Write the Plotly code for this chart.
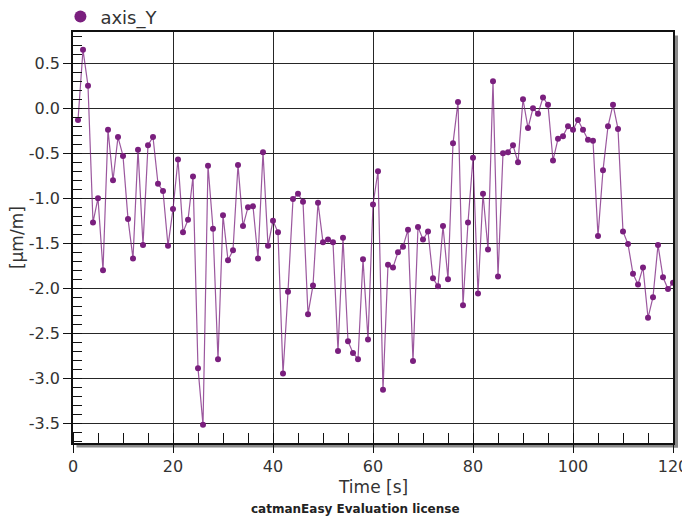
import plotly.graph_objects as go

time_s = list(range(1, 121))
axis_y = [
    -0.13, 0.65, 0.25, -1.27, -1.00, -1.80, -0.24, -0.80, -0.32, -0.53,
    -1.23, -1.67, -0.46, -1.52, -0.41, -0.32, -0.84, -0.92, -1.53, -1.12,
    -0.57, -1.38, -1.24, -0.76, -2.89, -3.52, -0.64, -1.34, -2.79, -1.19,
    -1.69, -1.58, -0.63, -1.31, -1.10, -1.09, -1.67, -0.49, -1.53, -1.25,
    -1.38, -2.95, -2.04, -1.01, -0.95, -1.04, -2.29, -1.97, -1.05, -1.49,
    -1.46, -1.49, -2.70, -1.44, -2.59, -2.72, -2.79, -1.68, -2.57, -1.07,
    -0.70, -3.13, -1.74, -1.77, -1.60, -1.54, -1.35, -2.81, -1.32, -1.46,
    -1.37, -1.89, -1.98, -1.31, -1.90, -0.39, 0.07, -2.19, -1.27, -0.55,
    -2.06, -0.95, -1.57, 0.30, -1.87, -0.50, -0.49, -0.41, -0.60, 0.10,
    -0.22, 0.00, -0.06, 0.12, 0.04, -0.58, -0.34, -0.31, -0.20, -0.24,
    -0.13, -0.24, -0.35, -0.36, -1.42, -0.69, -0.20, 0.04, -0.23, -1.37,
    -1.51, -1.84, -1.96, -1.77, -2.33, -2.10, -1.52, -1.88, -2.01, -1.94,
]
x_ticks = [0, 20, 40, 60, 80, 100, 120]
y_ticks = [0.5, 0.0, -0.5, -1.0, -1.5, -2.0, -2.5, -3.0, -3.5]
y_tick_text = ["0.5", "0.0", "-0.5", "-1.0", "-1.5", "-2.0", "-2.5", "-3.0", "-3.5"]

PURPLE = "#7a1f7e"
GRID = "#262626"
FONT = "DejaVu Sans"

fig = go.Figure()
fig.add_trace(go.Scatter(
    x=time_s, y=axis_y, mode="lines+markers", showlegend=False,
    line=dict(color="rgba(122,31,126,0.75)", width=1.2),
    marker=dict(color=PURPLE, size=6),
))
fig.add_trace(go.Scatter(
    x=[None], y=[None], mode="markers", name="axis_Y",
    marker=dict(color=PURPLE, size=12),
))

W, H = 600.0, 411.0
shapes = [
    dict(type="rect", xref="paper", yref="paper",
         x0=1 + 1 / W, x1=1 + 5 / W, y0=1 - 3.5 / H, y1=-4.5 / H,
         fillcolor="#8a8a8a", line=dict(width=0), layer="below"),
    dict(type="rect", xref="paper", yref="paper",
         x0=3.5 / W, x1=1 + 5 / W, y0=-1 / H, y1=-4.5 / H,
         fillcolor="#8a8a8a", line=dict(width=0), layer="below"),
]

# page body has an 8px margin, so the figure is sized/offset to compensate
fig.update_layout(
    width=682, height=508,
    margin=dict(l=65, r=17, t=24, b=73, autoexpand=False),
    paper_bgcolor="white", plot_bgcolor="white",
    font=dict(family=FONT, size=16, color="#333333"),
    showlegend=True,
    legend=dict(x=-0.021, y=1.082, xanchor="left", yanchor="top",
                font=dict(size=18, color="#333333"), bgcolor="rgba(0,0,0,0)"),
    shapes=shapes,
    annotations=[
        dict(text="Time [s]", xref="paper", yref="paper", x=0.5, y=(443 - 487) / H,
             xanchor="center", yanchor="middle", showarrow=False,
             font=dict(size=17, color="#333333")),
        dict(text="[µm/m]", xref="paper", yref="paper", x=-0.094, y=0.5,
             xanchor="center", yanchor="middle", showarrow=False, textangle=-90,
             font=dict(size=17, color="#333333")),
        dict(text="<b>catmanEasy Evaluation license</b>", xref="paper", yref="paper",
             x=(355.5 - 73) / W, y=(443 - 509) / H, xanchor="center", yanchor="middle",
             showarrow=False, font=dict(size=12, color="#222222")),
    ],
)

fig.update_xaxes(
    range=[0, 120], tickvals=x_ticks, ticks="outside", ticklen=8, tickcolor="#111",
    showgrid=True, gridcolor=GRID, gridwidth=1, zeroline=False,
    showline=True, linecolor="#111", linewidth=1.5, mirror=True,
    minor=dict(dtick=5, ticks="inside", ticklen=10, tickcolor="#111", showgrid=False),
)
fig.update_yaxes(
    range=[-3.722, 0.848], tickvals=y_ticks, ticktext=y_tick_text,
    ticks="outside", ticklen=8, tickcolor="#111",
    showgrid=True, gridcolor=GRID, gridwidth=1, zeroline=False,
    showline=True, linecolor="#111", linewidth=1.5, mirror=True,
    minor=dict(dtick=0.1, tick0=0, ticks="inside", ticklen=9, tickcolor="#111", showgrid=False),
)

fig.write_html("out.html")
